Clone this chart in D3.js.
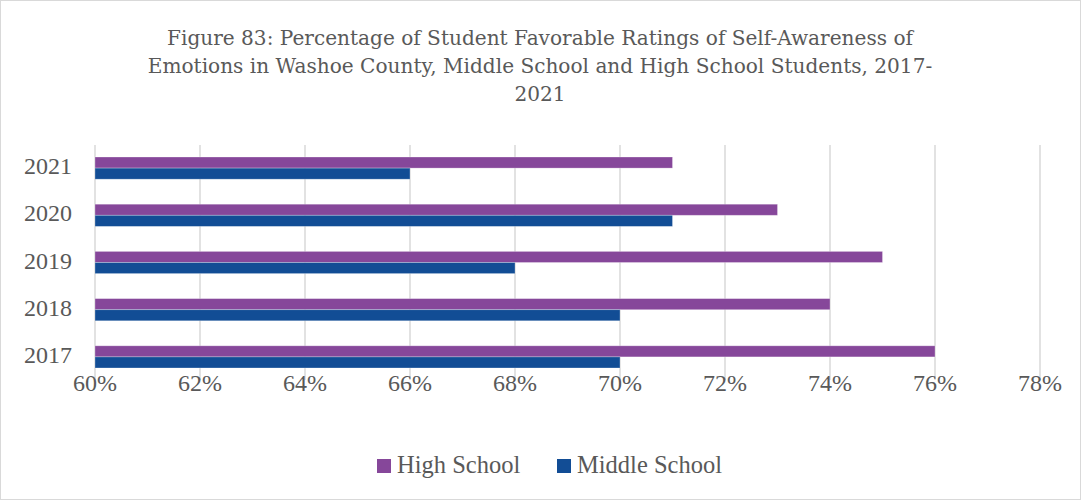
<!DOCTYPE html>
<html>
<head>
<meta charset="utf-8">
<script src="https://cdn.jsdelivr.net/npm/d3@7"></script>
<style>
  html, body { margin: 0; padding: 0; background: #fff; }
  svg { display: block; }
</style>
</head>
<body>
<svg id="chart" width="1081" height="500"></svg>
<script>
// Survey years, top to bottom
const years = ["2021", "2020", "2019", "2018", "2017"];
// Percent favorable, by school level
const highSchool = [71, 73, 75, 74, 76];
const middleSchool = [66, 71, 68, 70, 70];
const xTicks = [60, 62, 64, 66, 68, 70, 72, 74, 76, 78];
const seriesNames = ["High School", "Middle School"];
const seriesColors = ["#86479a", "#124d95"];
const titleLines = [
  "Figure 83: Percentage of Student Favorable Ratings of Self-Awareness of",
  "Emotions in Washoe County, Middle School and High School Students, 2017-",
  "2021"
];

const W = 1081, H = 500;
const svg = d3.select("#chart");
const font = "'Palatino Linotype', 'Book Antiqua', Palatino, 'Liberation Serif', serif";
const titleFont = "'Palatino Linotype', 'Book Antiqua', Palatino, 'DejaVu Serif', serif";

// outer chart border
svg.append("rect").attr("x", 0.5).attr("y", 0.5).attr("width", W - 1).attr("height", H - 1)
  .attr("fill", "#fff").attr("stroke", "#d9d9d9").attr("stroke-width", 1);

// title
svg.append("g").selectAll("text").data(titleLines).join("text")
  .attr("x", 540).attr("y", (d, i) => 45 + i * 28)
  .attr("text-anchor", "middle")
  .attr("font-family", titleFont).attr("font-size", 20.1)
  .attr("fill", "#595959")
  .text(d => d);

const x = d3.scaleLinear().domain([60, 78]).range([95, 1040]);
const y = d3.scaleBand().domain(years).range([144.5, 380.5]).paddingInner(0.53).paddingOuter(0.265);
const sub = d3.scaleBand().domain(seriesNames).range([0, y.bandwidth()]);

// vertical gridlines
svg.append("g").selectAll("line").data(xTicks).join("line")
  .attr("x1", d => x(d)).attr("x2", d => x(d))
  .attr("y1", 145).attr("y2", 380)
  .attr("stroke", "#d9d9d9").attr("stroke-width", 1.5);

// bars
const series = [highSchool, middleSchool];
series.forEach((vals, si) => {
  svg.append("g").selectAll("rect").data(years).join("rect")
    .attr("x", x(60))
    .attr("y", (d) => y(d) + sub(seriesNames[si]))
    .attr("width", (d, i) => x(vals[i]) - x(60))
    .attr("height", sub.bandwidth())
    .attr("fill", seriesColors[si])
    .attr("stroke", "#ffffff").attr("stroke-opacity", 0.35).attr("stroke-width", 0.8);
});

// category axis labels
svg.append("g").selectAll("text").data(years).join("text")
  .attr("x", 72).attr("y", d => y(d) + y.bandwidth() / 2 + 6)
  .attr("text-anchor", "end")
  .attr("font-family", font).attr("font-size", 24)
  .attr("fill", "#595959")
  .text(d => d);

// value axis labels
svg.append("g").selectAll("text").data(xTicks).join("text")
  .attr("x", d => x(d)).attr("y", 391)
  .attr("text-anchor", "middle")
  .attr("font-family", font).attr("font-size", 24)
  .attr("fill", "#595959")
  .text(d => d + "%");

// legend
const legendX = [377, 557];
const lg = svg.append("g").selectAll("g").data(seriesNames).join("g")
  .attr("transform", (d, i) => `translate(${legendX[i]},0)`);
lg.append("rect").attr("x", 0).attr("y", 459).attr("width", 14).attr("height", 14)
  .attr("fill", (d, i) => seriesColors[i]);
lg.append("text").attr("x", 20).attr("y", 472.5)
  .attr("font-family", font).attr("font-size", 24.5)
  .attr("fill", "#595959")
  .text(d => d);
</script>
</body>
</html>
